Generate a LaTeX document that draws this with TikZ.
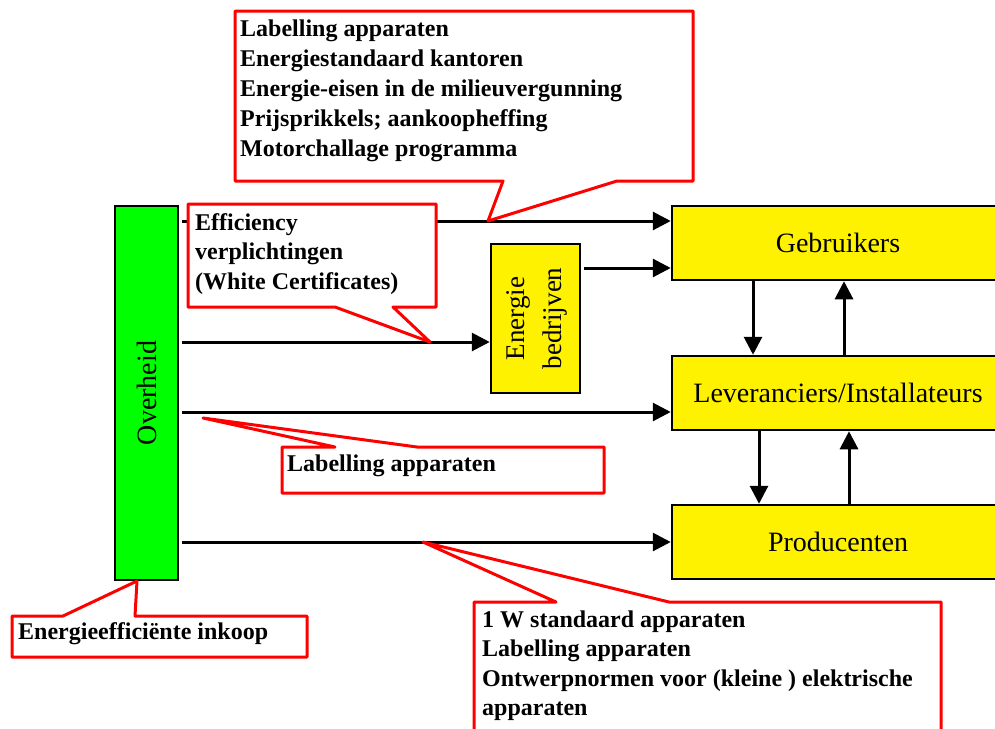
\documentclass[tikz,border=0pt]{standalone}
\usepackage{fontspec}
\setmainfont{Liberation Serif}
\usetikzlibrary{arrows.meta}

\tikzset{
	box/.style={draw=black, line width=2.5pt, fill=yellow, minimum width=332pt, minimum height=74pt, inner sep=0pt, font=\fontsize{28}{34}\selectfont},
	greenbox/.style={box, fill=green, minimum width=63pt, minimum height=374pt},
	arr/.style={line width=3pt, -{Triangle[length=18pt,width=18pt]}},
	callout/.style={draw=red, fill=white, line width=3pt, line join=round},
	callouttext/.style={anchor=base west, inner sep=0pt, font=\bfseries\fontsize{24}{29}\selectfont},
}

\begin{document}
\begin{tikzpicture}[x=1pt,y=-1pt]

	\useasboundingbox (0,0) rectangle (995,728);
	\clip (0,0) rectangle (995,728);

	% boxes
	\node[greenbox] (overheid) at (146.5,393) {\rotatebox{90}{Overheid}};
	\node[box] (gebruikers) at (838,243) {Gebruikers};
	\node[box] (leveranciers) at (838,393) {Leveranciers/Installateurs};
	\node[box] (producenten) at (838,542) {Producenten};
	\node[box, minimum width=89pt, minimum height=149pt, font=\fontsize{27}{37}\selectfont] (energie) at (535.5,318.5)
		{\rotatebox{90}{\begin{tabular}{@{}c@{}}Energie\\bedrijven\end{tabular}}};

	% arrows
	\coordinate (s1) at (182,221);
	\coordinate (s2) at (182,342);
	\coordinate (s3) at (182,412);
	\coordinate (s4) at (182,542);
	\coordinate (s5) at (584,268);
	\draw[arr] (s1) -- (s1 -| gebruikers.west);
	\draw[arr] (s2) -- (s2 -| energie.west);
	\draw[arr] (s3) -- (s3 -| leveranciers.west);
	\draw[arr] (s4) -- (s4 -| producenten.west);
	\draw[arr] (s5) -- (s5 -| gebruikers.west);

	\draw[arr] (gebruikers.south -| 753,0) -- (leveranciers.north -| 753,0);
	\draw[arr] (leveranciers.north -| 844,0) -- (gebruikers.south -| 844,0);
	\draw[arr] (leveranciers.south -| 759,0) -- (producenten.north -| 759,0);
	\draw[arr] (producenten.north -| 849,0) -- (leveranciers.south -| 849,0);

	% callouts
	\draw[callout] (235,11) -- (693,11) -- (693,181) -- (617,181) -- (488,221) -- (503,181) -- (235,181) -- cycle;
	\foreach \txt [count=\i] in {{Labelling apparaten}, {Energiestandaard kantoren}, {Energie-eisen in de milieuvergunning}, {Prijsprikkels; aankoopheffing}, {Motorchallage programma}}
		\node[callouttext] (top\i) at (240,6+30*\i) {\txt};

	\draw[callout] (188,204) -- (436,204) -- (436,307) -- (393,307) -- (430,342) -- (335,307) -- (188,307) -- cycle;
	\foreach \txt [count=\i] in {{Efficiency}, {verplichtingen}, {(White Certificates)}}
		\node[callouttext] (eff\i) at (195,200.5+29.5*\i) {\txt};

	\draw[callout] (282,447) -- (335,447) -- (203,418) -- (417,447) -- (604,447) -- (604,493) -- (282,493) -- cycle;
	\node[callouttext] (label) at (287,471) {Labelling apparaten};

	\draw[callout] (12,616) -- (63,616) -- (137,581) -- (135,616) -- (307,616) -- (307,657) -- (12,657) -- cycle;
	\node[callouttext] (inkoop) at (18,639) {Energieefficiënte inkoop};

	\draw[callout] (474,602) -- (556,602) -- (423,542) -- (669,602) -- (941,602) -- (941,745) -- (474,745) -- cycle;
	\foreach \txt [count=\i] in {{1 W standaard apparaten}, {Labelling apparaten}, {Ontwerpnormen voor (kleine ) elektrische}, {apparaten}}
		\node[callouttext] (norm\i) at (482,597.5+29.5*\i) {\txt};

\end{tikzpicture}
\end{document}
